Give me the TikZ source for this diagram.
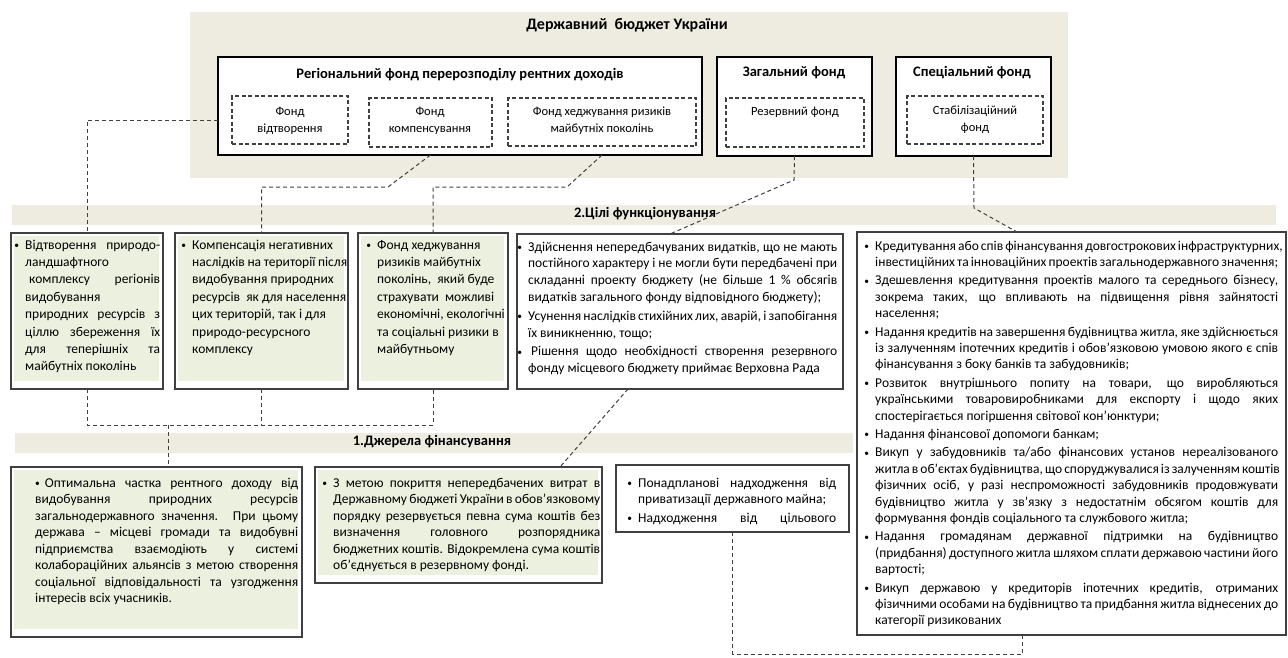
\documentclass[tikz,border=0pt]{standalone}
\usepackage{fontspec}
\setmainfont{Carlito}
\usetikzlibrary{calc}
\definecolor{bgtan}{HTML}{EEECE1}
\definecolor{boxgreen}{HTML}{EBF1DE}
\definecolor{edge}{HTML}{404040}
\newcommand\jline[1]{\hbox to\hsize{#1}}
\newcommand\lline[1]{\hbox to\hsize{#1\hfil}}
\newcommand\smbul{\raisebox{0.6pt}{\fontsize{9.5}{9.5}\selectfont\textbullet}}
\newcommand\bul{\llap{\smbul\hskip6pt}}
\newcommand\pgap{\vskip2pt}
\newcommand\tx[3]{\vtop{\hsize=#1pt\baselineskip=#2pt\relax #3}}
\newcommand\bx[6]{\node[#2, minimum width={#5-#3}, minimum height={#6-#4}] (#1) at ({(#3+#5)/2},{(#4+#6)/2}) {};}
\newcommand\gfill[1]{\fill[boxgreen] ([xshift=3pt,yshift=-3pt]#1.north west) rectangle ([xshift=-4pt,yshift=8pt]#1.south east);}
\tikzset{
 panel/.style={fill=bgtan, draw=none, inner sep=0pt, outer sep=0pt},
 wbox/.style={fill=white, draw=black, line width=1.3pt, inner sep=0pt, outer sep=0pt},
 dbox/.style={fill=white, draw=edge, line width=1.1pt, dash pattern=on 4pt off 2.5pt, inner sep=0pt, outer sep=0pt},
 cbox/.style={fill=white, draw=edge, line width=1.2pt, inner sep=0pt, outer sep=0pt},
 conn/.style={draw=edge, line width=1pt, dash pattern=on 4pt off 3pt},
 ttl/.style={font=\fontsize{16}{19}\selectfont\bfseries, inner sep=0pt},
 hdr/.style={font=\fontsize{14.5}{17}\selectfont\bfseries, inner sep=0pt},
 ftxt/.style={font=\fontsize{12.5}{17}\selectfont, align=center, inner sep=0pt},
 txt/.style={font=\fontsize{13.5}{16.5}\selectfont, inner sep=0pt, anchor=base west},
}
\begin{document}
\begin{tikzpicture}[x=1pt,y=-1pt]
\useasboundingbox (0,0) rectangle (1288,657);
\fill[white] (0,0) rectangle (1288,657);
% background panel and bands
\bx{bg}{panel}{190}{12}{1068}{178}
\bx{band2}{panel}{12}{205}{1276}{225}
\bx{band1}{panel}{15}{433}{853}{453}
% top boxes
\bx{reg}{wbox}{218}{57}{702}{155}
\bx{gen}{wbox}{717}{57}{872}{156}
\bx{spec}{wbox}{896}{57}{1051}{156}
\bx{fv}{dbox}{232}{96}{348}{144}
\bx{fk}{dbox}{369}{98}{492}{147}
\bx{fh}{dbox}{508}{98}{696}{146}
\bx{rf}{dbox}{726}{98}{864}{147}
\bx{sf}{dbox}{907}{96}{1043}{144}
\node[ttl] (ttlT) at (627,25) {Державний\ \ бюджет України};
\node[hdr] (regT) at (460,75) {Регіональний фонд перерозподілу рентних доходів};
\node[hdr] (genT) at (794,73) {Загальний фонд};
\node[hdr] (specT) at (972,73) {Спеціальний фонд};
\node[ftxt] (fvT) at (290,121) {Фонд\\відтворення};
\node[ftxt] (fkT) at (430,121) {Фонд\\компенсування};
\node[ftxt] (fhT) at (602,121) {Фонд хеджування ризиків\\майбутніх поколінь};
\node[ftxt] (rfT) at (795,112) {Резервний фонд};
\node[ftxt] (sfT) at (975,120) {Стабілізаційний\\фонд};
\node[hdr] (band2T) at (645,214) {2.Цілі функціонування};
\node[hdr] (band1T) at (432,442) {1.Джерела фінансування};
% content boxes
\bx{b1}{cbox}{11}{233}{163}{389}
\bx{b2}{cbox}{175}{233}{348}{389}
\bx{b3}{cbox}{358}{233}{508}{389}
\bx{b4}{cbox}{517}{234}{843}{389}
\bx{b5}{cbox}{857}{232}{1286}{635}
\bx{b6}{cbox}{11}{467}{302}{637}
\bx{b7}{cbox}{315}{467}{602}{583}
\bx{b8}{cbox}{616}{465}{849}{532}
\gfill{b1}\gfill{b2}\gfill{b3}\gfill{b6}\gfill{b7}
% connectors
\coordinate (c2a) at (388,187);
\coordinate (c3a) at (567,187);
\coordinate (c4a) at (794,180);
\coordinate (c5a) at (974,208);
\coordinate (j1) at (168,425);
\coordinate (c8) at (1022,654);
\draw[conn] (reg.west |- fv.center) -| (b1.north);
\draw[conn] (fk.center |- reg.south) -- (c2a) -| (b2.north);
\draw[conn] (fh.center |- reg.south) -- (c3a) -| (b3.north);
\draw[conn] (gen.south) -- (c4a) -- (670,0 |- b4.north);
\draw[conn] (spec.south) -- (c5a) -- (1017,0 |- b5.north);
\draw[conn] (b1.south) |- (b3.south |- j1) -- (b3.south);
\draw[conn] (b2.south) -- (b2.south |- j1);
\draw[conn] (j1) -- (j1 |- b6.north);
\draw[conn] (628,0 |- b4.south) -- (560,0 |- b7.north);
\draw[conn] (b8.south) |- (c8) -- (c8 |- b5.south);
% texts
\node[txt] (t1) at (25,249) {\tx{135}{17.4}{%
\jline{\bul Відтворення природо-}
\lline{ландшафтного}
\jline{\hskip4pt комплексу регіонів}
\lline{видобування}
\jline{природних ресурсів з}
\jline{ціллю збереження їх}
\jline{для теперішніх та}
\lline{майбутніх поколінь}}};
\node[txt] (t2) at (192,249) {\tx{155}{17.4}{%
\lline{\bul Компенсація негативних}
\lline{наслідків на території після}
\lline{видобування природних}
\lline{ресурсів\ \ як для населення}
\lline{цих територій, так і для}
\lline{природо-ресурсного}
\lline{комплексу}}};
\node[txt] (t3) at (377,249) {\tx{128}{17.4}{%
\lline{\bul Фонд хеджування}
\lline{ризиків майбутніх}
\lline{поколінь,\ \ який буде}
\lline{страхувати\ \ можливі}
\lline{економічні, екологічні}
\lline{та соціальні ризики в}
\lline{майбутньому}}};
\node[txt] (t4) at (528,251) {\tx{309}{16.8}{%
\jline{\bul Здійснення непередбачуваних видатків, що не мають}
\jline{постійного характеру і не могли бути передбачені при}
\jline{складанні проекту бюджету (не більше 1 \% обсягів}
\lline{видатків загального фонду відповідного бюджету);}
\pgap
\jline{\bul Усунення наслідків стихійних лих, аварій, і запобігання}
\lline{їх виникненню, тощо;}
\pgap
\jline{\bul\hskip3pt Рішення щодо необхідності створення резервного}
\lline{фонду місцевого бюджету приймає Верховна Рада}}};
\node[txt] (t5) at (875,250) {\tx{403}{16.4}{%
\jline{\bul Кредитування або спів фінансування довгострокових інфраструктурних,}
\lline{інвестиційних та інноваційних проектів загальнодержавного значення;}
\pgap
\jline{\bul Здешевлення кредитування проектів малого та середнього бізнесу,}
\jline{зокрема таких, що впливають на підвищення рівня зайнятості}
\lline{населення;}
\pgap
\jline{\bul Надання кредитів на завершення будівництва житла, яке здійснюється}
\jline{із залученням іпотечних кредитів і обов’язковою умовою якого є спів}
\lline{фінансування з боку банків та забудовників;}
\pgap
\jline{\bul Розвиток внутрішнього попиту на товари, що виробляються}
\jline{українськими товаровиробниками для експорту і щодо яких}
\lline{спостерігається погіршення світової кон’юнктури;}
\pgap
\lline{\bul Надання фінансової допомоги банкам;}
\pgap
\jline{\bul Викуп у забудовників та/або фінансових установ нереалізованого}
\jline{житла в об'єктах будівництва, що споруджувалися із залученням коштів}
\jline{фізичних осіб, у разі неспроможності забудовників продовжувати}
\jline{будівництво житла у зв'язку з недостатнім обсягом коштів для}
\lline{формування фондів соціального та службового житла;}
\pgap
\jline{\bul Надання громадянам державної підтримки на будівництво}
\jline{(придбання) доступного житла шляхом сплати державою частини його}
\lline{вартості;}
\pgap
\jline{\bul Викуп державою у кредиторів іпотечних кредитів, отриманих}
\jline{фізичними особами на будівництво та придбання житла віднесених до}
\lline{категорії ризикованих}}};
\node[txt] (t6) at (35,487) {\tx{263}{16.5}{%
\jline{\smbul\hskip5pt Оптимальна частка рентного доходу від}
\jline{видобування природних ресурсів}
\jline{загальнодержавного значення. При цьому}
\jline{держава – місцеві громади та видобувні}
\jline{підприємства взаємодіють у системі}
\jline{колабораційних альянсів з метою створення}
\jline{соціальної відповідальності та узгодження}
\lline{інтересів всіх учасників.}}};
\node[txt] (t7) at (333,487) {\tx{267}{16.5}{%
\jline{\bul З метою покриття непередбачених витрат в}
\jline{Державному бюджеті України в обов'язковому}
\jline{порядку резервується певна сума коштів без}
\jline{визначення головного розпорядника}
\jline{бюджетних коштів. Відокремлена сума коштів}
\lline{об'єднується в резервному фонді.}}};
\node[txt] (t8) at (638,487) {\tx{198}{16.5}{%
\jline{\bul Понадпланові надходження від}
\lline{приватизації державного майна;}
\pgap
\jline{\bul Надходження від цільового}}};
\end{tikzpicture}
\end{document}
